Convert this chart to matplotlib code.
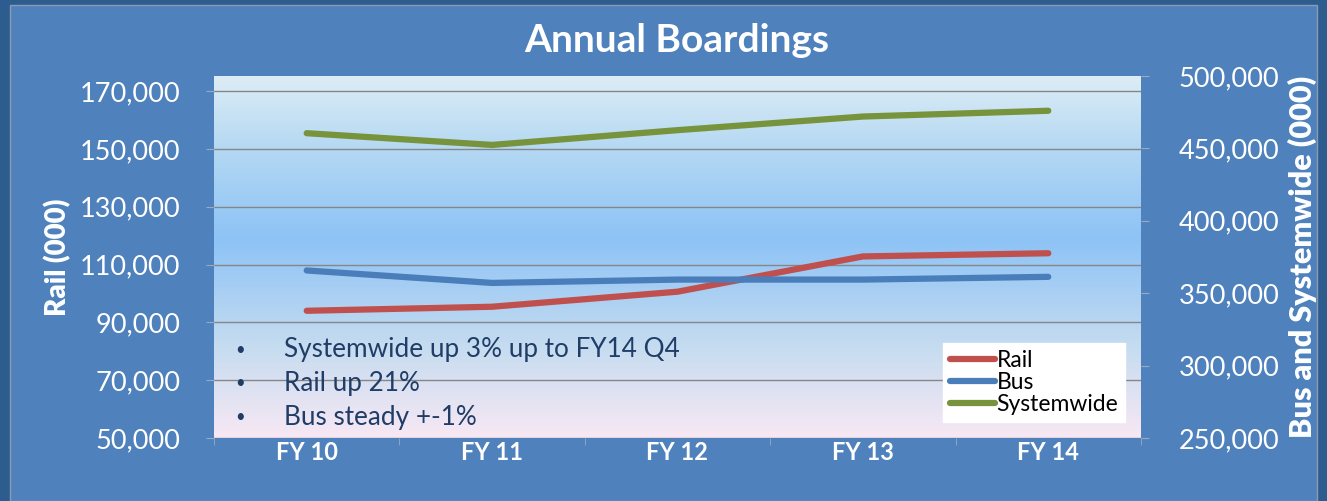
import numpy as np
import matplotlib.pyplot as plt
from matplotlib.colors import LinearSegmentedColormap
from matplotlib.ticker import FuncFormatter, FixedLocator
from matplotlib.patches import Rectangle

# data (thousands of boardings)
years = ["FY 10", "FY 11", "FY 12", "FY 13", "FY 14"]
rail = [94000, 95400, 100600, 112800, 113900]
bus = [365700, 357100, 359400, 359400, 361300]
systemwide = [460500, 452400, 462600, 472000, 476000]
notes = ["Systemwide up 3% up to FY14 Q4", "Rail up 21%", "Bus steady +-1%"]

plt.rcParams['font.family'] = ['Lato', 'DejaVu Sans']

bg = "#4F81BD"
fig = plt.figure(figsize=(13.27, 5.01), dpi=100)
fig.patch.set_facecolor("#2D5C8E")
fig.patches.append(Rectangle((10 / 1327, 0), 1 - 20 / 1327, 1 - 5 / 501, transform=fig.transFigure,
                             facecolor=bg, edgecolor="#8A9BB0", lw=1, zorder=-10))

ax = fig.add_axes([214 / 1327, 63 / 501, 927 / 1327, 362 / 501])
ax2 = ax.twinx()

# gradient background of plot area
grad = LinearSegmentedColormap.from_list("g", [(0, "#F8E8F4"), (0.25, "#C6DCF0"), (0.55, "#8DC3F6"),
                                              (0.8, "#B4D8F3"), (1, "#DDEDF5")])
ax.imshow(np.linspace(0, 1, 256).reshape(-1, 1), cmap=grad, aspect="auto",
          extent=[0, 1, 0, 1], transform=ax.transAxes, zorder=0, origin="lower")

x = np.arange(len(years))
ax.set_xlim(-0.5, 4.5)
ax.set_ylim(50000, 175200)
ax2.set_ylim(250000, 500000)

ax.set_yticks(range(50000, 170001, 20000))
ax2.set_yticks(range(250000, 500001, 50000))
fmt = FuncFormatter(lambda v, p: f"{int(v):,}")
ax.yaxis.set_major_formatter(fmt)
ax2.yaxis.set_major_formatter(fmt)
ax.grid(axis="y", color="#868686", lw=1, zorder=1)
ax.set_axisbelow(False)

ax.set_xticks(x)
ax.set_xticklabels(years, fontsize=17, fontweight="bold", color="white")
ax.xaxis.set_minor_locator(FixedLocator(np.arange(-0.5, 4.6, 1)))
ax.tick_params(axis="x", which="major", length=0, pad=2)
ax.tick_params(axis="x", which="minor", length=5, color="#9AAAC0")
ax.tick_params(axis="y", length=6, color="#9AAAC0", labelsize=19.5, labelcolor="white", pad=18)
ax2.tick_params(axis="y", length=6, color="#9AAAC0", labelsize=19.5, labelcolor="white", pad=21)

for a in (ax, ax2):
    for s in a.spines.values():
        s.set_visible(False)

l1, = ax.plot(x, rail, color="#C0504D", lw=4.5, solid_capstyle="round", zorder=3)
l2, = ax2.plot(x, bus, color="#4A7EBB", lw=4.5, solid_capstyle="round", zorder=3)
l3, = ax2.plot(x, systemwide, color="#77933C", lw=4.5, solid_capstyle="round", zorder=3)

ax.set_ylabel("Rail (000)", fontsize=20, fontweight="heavy", color="white", labelpad=6)
ax2.set_ylabel("Bus and Systemwide (000)", fontsize=22, fontweight="heavy", color="white", labelpad=6)
fig.text(677 / 1327, 1 - 40 / 501, "Annual Boardings", ha="center", va="center",
         fontsize=28, fontweight="bold", color="white")

for i, t in enumerate(notes):
    yy = 1 - (350 + 33.5 * i) / 501
    fig.text(240 / 1327, yy, "\u2022", ha="center", va="center", fontsize=12, color="#1F3D66")
    fig.text(284 / 1327, yy, t, ha="left", va="center", fontsize=18.8, color="#1F3D66")

leg = ax2.legend([l1, l2, l3], ["Rail", "Bus", "Systemwide"], loc="lower right",
                 bbox_to_anchor=(0.983, 0.044), borderaxespad=0, frameon=True, fancybox=False,
                 fontsize=16.5, handlelength=2.0, handletextpad=0.05, labelspacing=0.05, borderpad=0.3)
leg.get_frame().set_facecolor("white")
leg.get_frame().set_edgecolor("white")
leg.get_frame().set_alpha(1)
for t in leg.get_texts():
    t.set_color("black")

fig.savefig("out.png", dpi=100, facecolor=fig.get_facecolor())
